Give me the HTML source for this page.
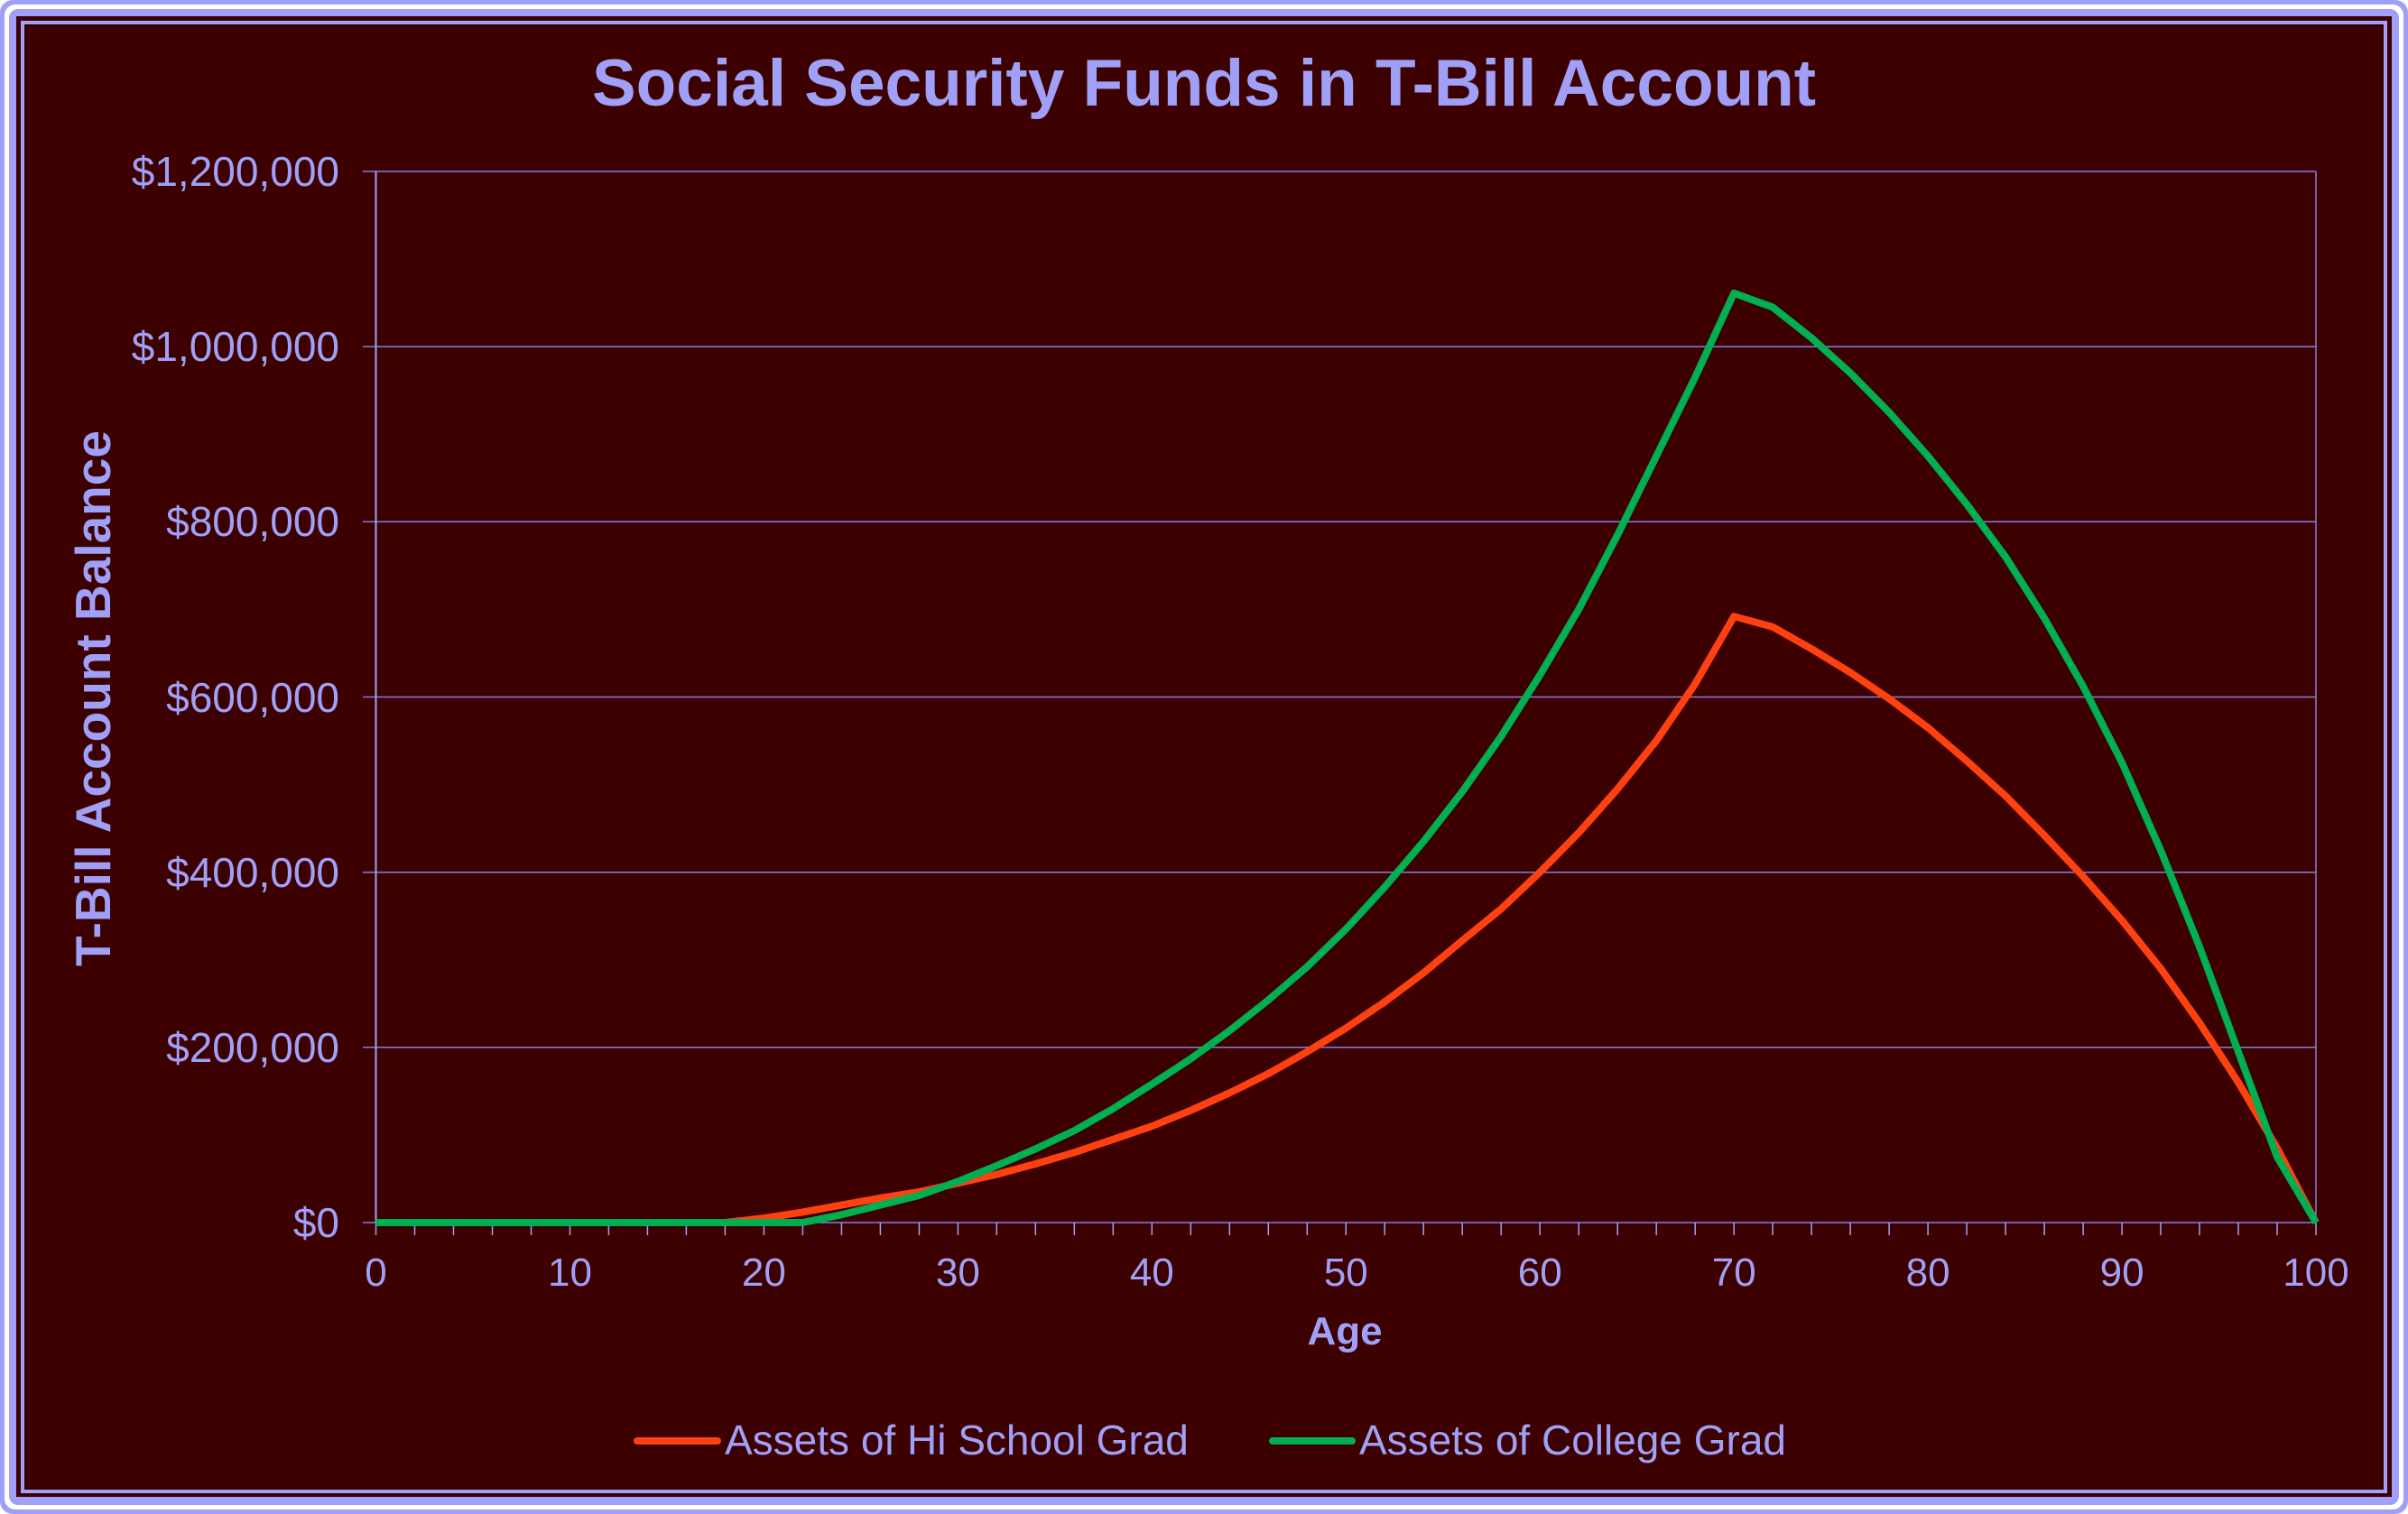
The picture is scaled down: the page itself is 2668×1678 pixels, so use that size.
<!DOCTYPE html>
<html><head><meta charset="utf-8"><style>
html,body{margin:0;padding:0;background:#fff}
svg{display:block}
text{font-family:"Liberation Sans",Arial,sans-serif;fill:#a0a0f8}
</style></head><body>
<svg width="2668" height="1678" viewBox="0 0 2668 1678" xmlns="http://www.w3.org/2000/svg">
<rect x="0" y="0" width="2668" height="1678" rx="14" fill="#a0a0f8"/>
<rect x="5" y="5" width="2658" height="1668" rx="12" fill="#ffffff"/>
<rect x="10" y="10" width="2648" height="1658" rx="10" fill="#a0a0f8"/>
<rect x="18" y="18" width="2632" height="1641" fill="#3c0000"/>
<rect x="25" y="25" width="2618" height="1628" fill="none" stroke="#a0a0f8" stroke-width="4"/>

<g stroke="#8080e0" stroke-width="1.5">
<line x1="402" y1="1355" x2="2566" y2="1355"/>
<line x1="402" y1="1160.8" x2="2566" y2="1160.8"/>
<line x1="402" y1="966.7" x2="2566" y2="966.7"/>
<line x1="402" y1="772.5" x2="2566" y2="772.5"/>
<line x1="402" y1="578.3" x2="2566" y2="578.3"/>
<line x1="402" y1="384.2" x2="2566" y2="384.2"/>
<line x1="402" y1="190" x2="2566" y2="190"/>
<line x1="2566" y1="190" x2="2566" y2="1355"/>
</g>
<line x1="416.5" y1="190" x2="416.5" y2="1355" stroke="#a0a0f8" stroke-width="2"/>
<path stroke="#a0a0f8" stroke-width="1.5" fill="none" d="M416.5 1355V1369M459.5 1355V1369M502.5 1355V1369M545.5 1355V1369M588.5 1355V1369M631.5 1355V1369M674.4 1355V1369M717.4 1355V1369M760.4 1355V1369M803.4 1355V1369M846.4 1355V1369M889.4 1355V1369M932.4 1355V1369M975.4 1355V1369M1018.4 1355V1369M1061.4 1355V1369M1104.3 1355V1369M1147.3 1355V1369M1190.3 1355V1369M1233.3 1355V1369M1276.3 1355V1369M1319.3 1355V1369M1362.3 1355V1369M1405.3 1355V1369M1448.3 1355V1369M1491.3 1355V1369M1534.2 1355V1369M1577.2 1355V1369M1620.2 1355V1369M1663.2 1355V1369M1706.2 1355V1369M1749.2 1355V1369M1792.2 1355V1369M1835.2 1355V1369M1878.2 1355V1369M1921.2 1355V1369M1964.1 1355V1369M2007.1 1355V1369M2050.1 1355V1369M2093.1 1355V1369M2136.1 1355V1369M2179.1 1355V1369M2222.1 1355V1369M2265.1 1355V1369M2308.1 1355V1369M2351.1 1355V1369M2394 1355V1369M2437 1355V1369M2480 1355V1369M2523 1355V1369M2566 1355V1369"/>

<g font-size="46" text-anchor="end">
<text x="376" y="1371">$0</text>
<text x="376" y="1177">$200,000</text>
<text x="376" y="983">$400,000</text>
<text x="376" y="789">$600,000</text>
<text x="376" y="594">$800,000</text>
<text x="376" y="400">$1,000,000</text>
<text x="376" y="206">$1,200,000</text>
</g>
<g font-size="44" text-anchor="middle">
<text x="416.5" y="1425">0</text>
<text x="631.5" y="1425">10</text>
<text x="846.4" y="1425">20</text>
<text x="1061.4" y="1425">30</text>
<text x="1276.3" y="1425">40</text>
<text x="1491.3" y="1425">50</text>
<text x="1706.2" y="1425">60</text>
<text x="1921.2" y="1425">70</text>
<text x="2136.1" y="1425">80</text>
<text x="2351.1" y="1425">90</text>
<text x="2566" y="1425">100</text>
</g>

<polyline fill="none" stroke="#ff4010" stroke-width="8" stroke-linejoin="round" points="416.5,1355 803.4,1355 846.4,1350.1 889.4,1343.4 932.4,1335.6 975.4,1327.8 1018.4,1321 1061.4,1311.3 1104.3,1301.6 1147.3,1290 1190.3,1277.3 1233.3,1262.8 1276.3,1248.2 1319.3,1230.7 1362.3,1211.3 1405.3,1190 1448.3,1165.7 1491.3,1139.5 1534.2,1110.4 1577.2,1078.3 1620.2,1042.4 1663.2,1007.4 1706.2,966.7 1749.2,923 1792.2,874.4 1835.2,821 1878.2,757.9 1921.2,683.2 1964.1,694.8 2007.1,719.1 2050.1,745.3 2093.1,774.4 2136.1,806.5 2179.1,843.4 2222.1,882.2 2265.1,925.9 2308.1,971.5 2351.1,1020.1 2394,1073.5 2437,1133.7 2480,1199.7 2523,1272.5 2566,1355"/>
<polyline fill="none" stroke="#00b050" stroke-width="8" stroke-linejoin="round" points="416.5,1355 889.4,1355 932.4,1346.3 975.4,1335.6 1018.4,1324.9 1061.4,1309.4 1104.3,1291.9 1147.3,1273.4 1190.3,1253.1 1233.3,1228.8 1276.3,1201.6 1319.3,1173.5 1362.3,1142.4 1405.3,1108.4 1448.3,1071.5 1491.3,1029.8 1534.2,983.2 1577.2,932.7 1620.2,877.4 1663.2,816.2 1706.2,748.2 1749.2,675.4 1792.2,592.9 1835.2,505.5 1878.2,418.1 1921.2,325 1964.1,340.5 2007.1,374.5 2050.1,413.3 2093.1,457 2136.1,505.5 2179.1,558.9 2222.1,617.2 2265.1,685.1 2308.1,760.8 2351.1,845.3 2394,942.4 2437,1049.2 2480,1165.7 2523,1282.2 2566,1355"/>

<text x="1334" y="117" font-size="73" font-weight="bold" text-anchor="middle">Social Security Funds in T-Bill Account</text>
<text transform="translate(122,774) rotate(-90)" font-size="55" font-weight="bold" text-anchor="middle">T-Bill Account Balance</text>
<text x="1490" y="1490" font-size="44" font-weight="bold" text-anchor="middle">Age</text>
<line x1="706" y1="1597" x2="795" y2="1597" stroke="#ff4010" stroke-width="8" stroke-linecap="round"/>
<text x="803" y="1612" font-size="46">Assets of Hi School Grad</text>
<line x1="1410" y1="1597" x2="1498" y2="1597" stroke="#00b050" stroke-width="8" stroke-linecap="round"/>
<text x="1506" y="1612" font-size="46">Assets of College Grad</text>
</svg>
</body></html>
